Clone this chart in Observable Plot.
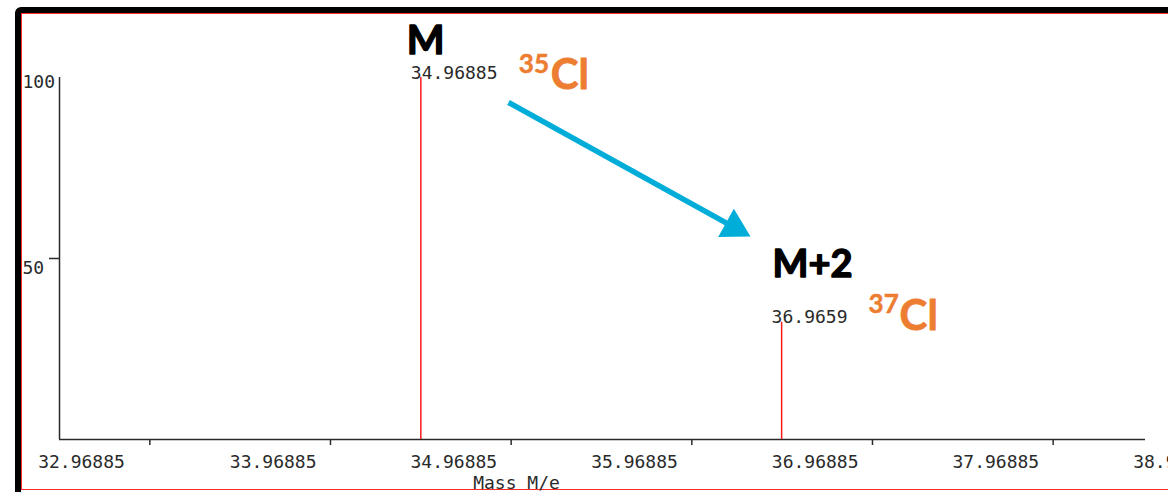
<!DOCTYPE html>
<html>
<head>
<meta charset="utf-8">
<script src="https://cdn.jsdelivr.net/npm/d3@7"></script>
<script src="https://cdn.jsdelivr.net/npm/@observablehq/plot@0.6"></script>
<style>
  html, body { margin: 0; padding: 0; background: #fff; overflow: hidden; width: 1168px; height: 492px; }
  #outer { position: absolute; left: 15px; top: 7px; width: 1220px; height: 510px; border: 6px solid #000; border-radius: 6px; box-sizing: border-box; }
  #inner { position: absolute; left: 0; top: 0; width: 1200px; height: 477px; border: 1.6px solid #ff2a2a; box-sizing: border-box; }
  #chart { position: absolute; left: 0; top: 0; }
</style>
</head>
<body>
<div id="outer"><div id="inner"></div></div>
<div id="chart"></div>
<script>
// ---- data ----
const xDomain = [32.96885, 38.98];
const peakMz = [34.96885, 36.9659];
const peakIntensity = [100, 32.4];
const peakLabels = ["34.96885", "36.9659"];
const ionNames = ["M", "M+2"];
const isotopeMass = ["35", "37"];
const isotopeSymbol = ["Cl", "Cl"];
const xTickLabelValues = [32.96885, 33.96885, 34.96885, 35.96885, 36.96885, 37.96885, 38.96885];
const xTickMarkValues = [33.46885, 34.46885, 35.46885, 36.46885, 37.46885, 38.46885];
const yTickLabelValues = [50, 100];
const yTickMarkValues = [50];
const xAxisTitle = "Mass M/e";
const xAxisTitlePos = [35.4985];
const arrowFrom = [35.4542, 93.09];
const arrowTo = [36.7937, 56.08];

// ---- layout ----
const W = 1168, H = 492, mL = 59, mR = 23, mT = 77, mB = 53;
const kx = (W - mL - mR) / (xDomain[1] - xDomain[0]);
const ky = (H - mT - mB) / 100;
const monoFont = "DejaVu Sans Mono";
const annFont = "Lato";
const orange = "#ED7D31";
const blue = "#00ADD9";
const ink = "#2a2a2a";

const peaks = peakMz.map((mz, i) => ({mz, intensity: peakIntensity[i], label: peakLabels[i], ion: ionNames[i], mass: isotopeMass[i], sym: isotopeSymbol[i]}));

// annotation offsets (px) relative to each peak top
const ionOff = [[-14, -24], [-9, -45]];
const massOff = [[98, -5], [87, -9]];
const symOff = [[130, 11], [118, 8]];
const yLabelDy = [15, 10];
const xLabelDx = [22, 33, 33, 33, 33, 33, 33];

// arrow geometry derived from data endpoints
const dxPx = (arrowTo[0] - arrowFrom[0]) * kx;
const dyPx = -(arrowTo[1] - arrowFrom[1]) * ky;
const len = Math.hypot(dxPx, dyPx);
const ux = dxPx / len, uy = dyPx / len;
const headR = 12;
const back = 2 / 3 * 3 * Math.sqrt(Math.PI * headR * headR / (3 * Math.sqrt(3)));
const headCenter = {x: arrowTo[0] - ux * back / kx, y: arrowTo[1] + uy * back / ky};
const angle = Math.atan2(dyPx, dxPx) * 180 / Math.PI + 90;
const arrowData = [{x1: arrowFrom[0], y1: arrowFrom[1], x2: headCenter.x, y2: headCenter.y}];

const marks = [
  // axes lines
  Plot.ruleY([0], {stroke: ink, strokeWidth: 1.5}),
  Plot.ruleX([xDomain[0]], {y1: 0, y2: 100, stroke: ink, strokeWidth: 1.5}),
  // x tick marks (between labels)
  Plot.axisX({ticks: xTickMarkValues, tickSize: 6, tickFormat: () => "", stroke: ink, strokeWidth: 1.5}),
  // x tick labels
  ...xTickLabelValues.map((v, i) => Plot.axisX({ticks: [v], tickSize: 0, tickPadding: 16, dx: xLabelDx[i], tickFormat: d => d.toFixed(5), fontSize: 18, fill: ink})),
  // y tick
  Plot.axisY({ticks: yTickMarkValues, tickSize: 10, tickFormat: () => "", stroke: ink, strokeWidth: 1.5}),
  // y labels
  ...yTickLabelValues.map((v, i) => Plot.text([v], {y: d => d, text: d => String(d), frameAnchor: "left", textAnchor: "start", dx: -37, lineAnchor: "bottom", dy: yLabelDy[i], fontSize: 18, fill: ink})),
  // x axis title
  Plot.text(xAxisTitlePos, {x: d => d, text: () => xAxisTitle, frameAnchor: "bottom", lineAnchor: "bottom", dy: 49, fontSize: 18, fill: ink}),
  // peaks
  Plot.ruleX(peaks, {x: "mz", y1: 0, y2: "intensity", stroke: "#ff1a1a", strokeWidth: 1.5}),
  // peak labels
  Plot.text(peaks, {x: "mz", y: "intensity", text: "label", textAnchor: "start", dx: -10, lineAnchor: "bottom", dy: 1, fontSize: 18, fill: ink}),
  // ion names
  ...peaks.map((p, i) => Plot.text([p], {x: "mz", y: "intensity", text: "ion", textAnchor: "start", lineAnchor: "bottom", dx: ionOff[i][0], dy: ionOff[i][1], fontFamily: annFont, fontWeight: "bold", fontSize: i === 0 ? 40 : 38, fill: "#000", stroke: "#000", strokeWidth: 1.4, strokeLinejoin: "round"})),
  // isotope mass numbers (superscript)
  ...peaks.map((p, i) => Plot.text([p], {x: "mz", y: "intensity", text: "mass", textAnchor: "start", lineAnchor: "bottom", dx: massOff[i][0], dy: massOff[i][1], fontFamily: annFont, fontWeight: "bold", fontSize: 26, fill: orange, stroke: orange, strokeWidth: 0.5})),
  // isotope symbols
  ...peaks.map((p, i) => Plot.text([p], {x: "mz", y: "intensity", text: "sym", textAnchor: "start", lineAnchor: "bottom", dx: symOff[i][0], dy: symOff[i][1], fontFamily: annFont, fontWeight: "bold", fontSize: 42, fill: orange, stroke: orange, strokeWidth: 0.8})),
  // arrow
  Plot.link(arrowData, {x1: "x1", y1: "y1", x2: "x2", y2: "y2", stroke: blue, strokeWidth: 5.5, strokeLinecap: "butt"}),
  Plot.dot([headCenter], {x: "x", y: "y", symbol: "triangle", r: headR, fill: blue, stroke: "none", rotate: angle})
];

const chart = Plot.plot({
  width: W, height: H,
  marginLeft: mL, marginRight: mR, marginTop: mT, marginBottom: mB,
  x: {domain: xDomain, axis: null},
  y: {domain: [0, 100], axis: null},
  style: {fontFamily: monoFont, fontSize: "18px", background: "transparent", overflow: "visible", color: ink},
  marks
});
document.getElementById("chart").appendChild(chart);
</script>
</body>
</html>
